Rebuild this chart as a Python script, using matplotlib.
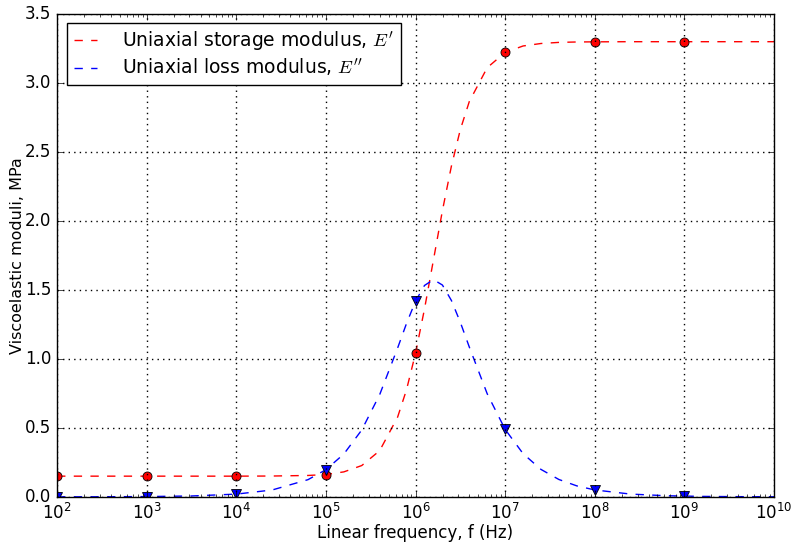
import matplotlib

matplotlib.use("Agg")
import matplotlib.pyplot as plt

plt.style.use("classic")

# smooth model curves, log10 of frequency in Hz
log_f = [2.0, 2.5, 3.0, 3.5, 4.0, 4.4, 4.8, 5.0, 5.2, 5.4, 5.6, 5.8, 5.9,
         6.0, 6.1, 6.2, 6.3, 6.4, 6.5, 6.6, 6.8, 7.0, 7.2, 7.4, 7.6, 7.8,
         8.0, 8.4, 8.8, 9.2, 9.6, 10.0]
storage = [0.150, 0.150, 0.150, 0.150, 0.150, 0.151, 0.155, 0.162, 0.181,
           0.227, 0.335, 0.578, 0.778, 1.041, 1.362, 1.718, 2.075, 2.397,
           2.663, 2.866, 3.112, 3.222, 3.269, 3.287, 3.295, 3.298, 3.299,
           3.300, 3.300, 3.300, 3.300, 3.300]
loss = [0.0002, 0.0006, 0.0020, 0.0063, 0.0198, 0.0497, 0.1246, 0.1970,
        0.3105, 0.4850, 0.7412, 1.0789, 1.2583, 1.4187, 1.5326, 1.5750,
        1.5357, 1.4244, 1.2654, 1.0862, 0.7471, 0.4892, 0.3133, 0.1988,
        0.1258, 0.0794, 0.0501, 0.0200, 0.0080, 0.0032, 0.0013, 0.0005]

# sampled points, one per decade
f_pts = [1e2, 1e3, 1e4, 1e5, 1e6, 1e7, 1e8, 1e9]
storage_pts = [0.150, 0.150, 0.150, 0.162, 1.041, 3.222, 3.299, 3.300]
loss_pts = [0.0002, 0.0020, 0.0198, 0.1970, 1.4187, 0.4892, 0.0501, 0.0050]

freq = [10 ** v for v in log_f]

fig = plt.figure(figsize=(7.93, 5.43), dpi=100, facecolor="white")
ax = fig.add_axes([0.072, 0.085, 0.904, 0.889])

ax.semilogx(freq, storage, "r--", lw=1.0, label="Uniaxial storage modulus, $E'$")
ax.semilogx(freq, loss, "b--", lw=1.0, label="Uniaxial loss modulus, $E''$")
ax.plot(f_pts, storage_pts, "ro", ms=6.5, mec="k", mew=0.6)
ax.plot(f_pts, loss_pts, "bv", ms=6.5, mec="k", mew=0.6)

ax.set_xlim(1e2, 1e10)
ax.set_ylim(0.0, 3.5)
ax.grid(True, which="major", color="k", linestyle=":", linewidth=1.0)
ax.set_xlabel("Linear frequency, f (Hz)", fontsize=12, labelpad=1)
ax.set_ylabel("Viscoelastic moduli, MPa", fontsize=11.5, labelpad=0)
ax.tick_params(labelsize=12)

ax.legend(loc="upper left", bbox_to_anchor=(0.014, 0.981), borderaxespad=0,
          fontsize=13.5, handlelength=1.25, handletextpad=1.35, numpoints=1,
          labelspacing=0.2, borderpad=0.35)

fig.savefig("out.png", dpi=100, facecolor="white")
